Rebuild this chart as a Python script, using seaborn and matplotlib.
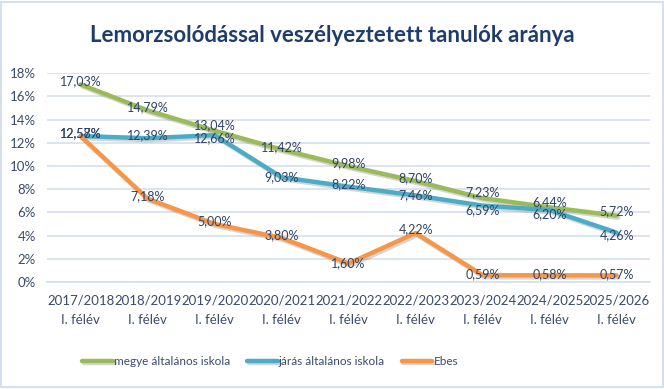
import matplotlib
matplotlib.use("Agg")
import matplotlib.pyplot as plt
import matplotlib.patheffects as pe
import seaborn as sns
import pandas as pd
from matplotlib.ticker import FuncFormatter, MultipleLocator

categories = ["2017/2018\nI. félév", "2018/2019\nI. félév", "2019/2020\nI. félév",
              "2020/2021\nI. félév", "2021/2022\nI. félév", "2022/2023\nI. félév",
              "2023/2024\nI. félév", "2024/2025\nI. félév", "2025/2026\nI. félév"]
megye = [17.03, 14.79, 13.04, 11.42, 9.98, 8.70, 7.23, 6.44, 5.72]
jaras = [12.58, 12.39, 12.66, 9.03, 8.22, 7.46, 6.59, 6.20, 4.26]
ebes = [12.57, 7.18, 5.00, 3.80, 1.60, 4.22, 0.59, 0.58, 0.57]
series_names = ["megye általános iskola", "járás általános iskola", "Ebes"]
colors = ["#9BBB59", "#4BACC6", "#F79646"]

rows = []
for name, vals in zip(series_names, [megye, jaras, ebes]):
    for c, v in zip(categories, vals):
        rows.append({"cat": c, "val": v / 100, "series": name})
df = pd.DataFrame(rows)

sns.set_theme(style="white")
plt.rcParams["font.family"] = ["Lato", "DejaVu Sans"]

fig = plt.figure(figsize=(6.64, 3.89), dpi=100)
ax = fig.add_axes([0.071, 0.275, 0.908, 0.537])

sns.lineplot(data=df, x="cat", y="val", hue="series", palette=colors, sort=False,
             linewidth=3.2, ax=ax, legend=True)
for ln in ax.lines:
    ln.set_path_effects([pe.SimpleLineShadow(offset=(1.2, -1.5), shadow_color="#888888", alpha=0.35),
                         pe.Normal()])
    ln.set_solid_joinstyle("round")

ax.set_ylim(0, 0.18)
ax.set_xlim(-0.5, len(categories) - 0.5)
ax.yaxis.set_major_locator(MultipleLocator(0.02))
ax.yaxis.set_major_formatter(FuncFormatter(lambda v, p: f"{v*100:.0f}%"))
ax.grid(axis="y", color="#D6DFEC", linewidth=1.2)
ax.set_axisbelow(True)
for s in ["top", "right", "left"]:
    ax.spines[s].set_visible(False)
ax.spines["bottom"].set_color("#D6DFEC")
ax.spines["bottom"].set_linewidth(1.2)
ax.set_xlabel("")
ax.set_ylabel("")
txtc = "#3B4A6B"
ax.tick_params(axis="y", colors=txtc, labelsize=9.5, length=0, pad=8)
ax.tick_params(axis="x", colors=txtc, labelsize=9.5, length=0, pad=9)
for t in ax.get_xticklabels():
    t.set_linespacing(1.75)

# small offsets (points) to keep close labels legible, as in the reference
dy = {0: [2, 2, 4, 2, 2, 2, 4, 4, 3],
      1: [2, 2, -2, 0, 2, 0, -3, -3, -2],
      2: [2, 2, 2, 2, 0, 3, 1, 1, 1]}
for k, (name, vals) in enumerate(zip(series_names, [megye, jaras, ebes])):
    for i, v in enumerate(vals):
        ax.annotate(f"{v:.2f}%".replace(".", ","), (i, v / 100), xytext=(0, dy[k][i]),
                    textcoords="offset points", ha="center", va="center",
                    fontsize=9, color="#2E4468")

leg = ax.legend(loc="upper center", bbox_to_anchor=(0.37, -0.305), ncol=3, frameon=False,
                fontsize=8.5, handlelength=2.6, columnspacing=1.4, handletextpad=0.1)
for t in leg.get_texts():
    t.set_color(txtc)

fig.suptitle("Lemorzsolódással veszélyeztetett tanulók aránya", x=0.5, y=0.935,
             fontsize=16, fontweight="bold", color="#1F3D6B")

fig.patches.append(plt.Rectangle((0.002, 0.004), 0.996, 0.992, transform=fig.transFigure,
                                 fill=False, edgecolor="#D6DFEC", linewidth=1.5))
fig.savefig("out.png", dpi=100)
